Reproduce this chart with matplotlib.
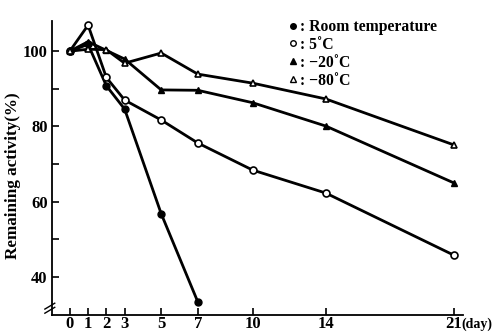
import matplotlib
matplotlib.use('Agg')
import matplotlib.pyplot as plt
from matplotlib.lines import Line2D

plt.rcParams['font.family'] = ['Liberation Serif', 'DejaVu Serif']
plt.rcParams['font.weight'] = 'bold'

days = [0, 1, 2, 3, 5, 7, 10, 14, 21]

room_days = [0, 1, 2, 3, 5, 7]
room_vals = [100, 101.8, 90.8, 84.6, 56.8, 33.4]

c5_vals = [100, 106.9, 93.0, 87.0, 81.7, 75.6, 68.4, 62.3, 45.8]
m20_vals = [100, 102.5, 100.2, 97.9, 89.7, 89.6, 86.3, 80.1, 65.0]
m80_vals = [100, 100.5, 100.4, 96.8, 99.5, 93.9, 91.5, 87.3, 75.1]

labels = [': Room temperature', ': 5\u02daC', ': \u221220\u02daC', ': \u221280\u02daC']

fig = plt.figure(figsize=(4.94, 3.34), dpi=100)
ax = fig.add_axes([0.105, 0.057, 0.832, 0.88])

lw = 2.0
ms = 5
ax.plot(room_days, room_vals, color='black', lw=lw, marker='o', ms=ms, mfc='black', mec='black')
ax.plot(days, c5_vals, color='black', lw=lw, marker='o', ms=ms, mfc='white', mec='black', mew=1.2)
ax.plot(days, m20_vals, color='black', lw=lw, marker='^', ms=ms, mfc='black', mec='black')
ax.plot(days, m80_vals, color='black', lw=lw, marker='^', ms=ms, mfc='white', mec='black', mew=1.2)

ax.set_xlim(-0.98, 21.5)
ax.set_ylim(29.9, 108)
ax.set_xticks(days)
ax.set_xticklabels([str(d) for d in days])
ax.set_yticks([40, 60, 80, 100])
ax.set_yticks([50, 70, 90], minor=True)
ax.tick_params(axis='both', direction='in', labelsize=12, width=1.2, length=5)
ax.tick_params(axis='y', which='minor', direction='in', width=1.2, length=5)
ax.tick_params(axis='x', pad=1)
ax.tick_params(axis='y', pad=3)
ax.spines['top'].set_visible(False)
ax.spines['right'].set_visible(False)
ax.spines['left'].set_linewidth(1.3)
ax.spines['bottom'].set_linewidth(1.3)

ax.annotate('(day)', xy=(21, 0), xycoords=('data', 'axes fraction'), xytext=(5.6, -9.6),
            textcoords='offset points', ha='left', va='baseline', fontsize=10, fontweight='bold')
fig.text(0.027, 0.475, 'Remaining activity(%)', rotation=90, ha='center', va='center',
         fontsize=12.3, fontweight='bold')

# axis break mark
for dy in (0.0, 0.014):
    ax.plot([-0.017, 0.007], [0.006 + dy, 0.026 + dy], transform=ax.transAxes,
            color='black', lw=1.0, clip_on=False)

handles = [
    Line2D([], [], ls='none', marker='o', ms=4, mfc='black', mec='black'),
    Line2D([], [], ls='none', marker='o', ms=4, mfc='white', mec='black'),
    Line2D([], [], ls='none', marker='^', ms=4, mfc='black', mec='black'),
    Line2D([], [], ls='none', marker='^', ms=4, mfc='white', mec='black'),
]
ax.legend(handles, labels, loc='upper left', bbox_to_anchor=(0.54, 1.055), frameon=False,
          handlelength=0.6, handletextpad=0.2, labelspacing=0.12, fontsize=11.3)

fig.savefig('out.png', dpi=100)
